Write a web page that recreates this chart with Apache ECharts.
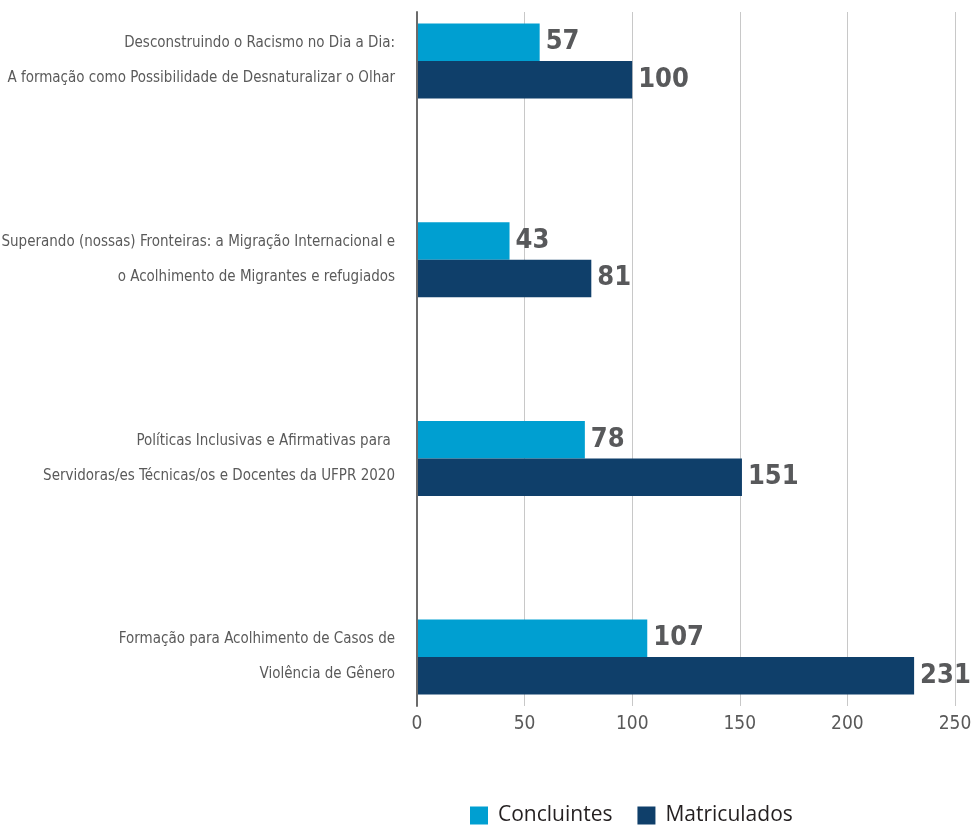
<!DOCTYPE html>
<html>
<head>
<meta charset="utf-8">
<script src="https://cdn.jsdelivr.net/npm/echarts@6/dist/echarts.min.js"></script>
<style>
	html, body {margin: 0; padding: 0; background: #fff;}
	#chart {width: 971px; height: 825px;}
</style>
</head>
<body>
<div id="chart"></div>
<script>
let categories = [
	'Desconstruindo o Racismo no Dia a Dia:\nA formação como Possibilidade de Desnaturalizar o Olhar',
	'Superando (nossas) Fronteiras: a Migração Internacional e\no Acolhimento de Migrantes e refugiados',
	'Políticas Inclusivas e Afirmativas para \nServidoras/es Técnicas/os e Docentes da UFPR 2020',
	'Formação para Acolhimento de Casos de\nViolência de Gênero',
];
let concluintes = [57, 43, 78, 107];
let matriculados = [100, 81, 151, 231];
let xTicks = {min: 0, max: 250, interval: 50};

let narrow = '"DejaVu Sans Condensed", "Liberation Sans Narrow", sans-serif';
let gray = '#58595b';

let chart = echarts.init(document.getElementById('chart'));

let valueLabel = {
	show: true,
	position: 'right',
	distance: 6,
	fontFamily: narrow,
	fontSize: 27,
	fontWeight: 'bold',
	color: gray,
};

chart.setOption({
	animation: false,
	legend: {
		left: 470,
		top: 805,
		padding: 0,
		icon: 'rect',
		itemWidth: 18,
		itemHeight: 18,
		itemGap: 25,
		textStyle: {
			fontFamily: '"Open Sans", sans-serif',
			fontSize: 21,
			color: '#231f20',
			padding: [0, 0, 0, 5],
		},
		data: ['Concluintes', 'Matriculados'],
	},
	grid: [
		// frame: axis line, split lines, tick labels
		{left: 417, right: 16, top: 12, bottom: 119, outerBoundsMode: 'none'},
		// bars
		{left: 417, right: 16, top: -38.3, height: 794.7, outerBoundsMode: 'none'},
	],
	xAxis: [
		{
			gridIndex: 0,
			type: 'value',
			...xTicks,
			axisLine: {show: false},
			axisTick: {show: false},
			splitLine: {lineStyle: {color: '#c8c8c8', width: 1}},
			axisLabel: {
				fontFamily: narrow,
				fontSize: 19,
				color: '#595959',
				margin: 9,
			},
		},
		{
			gridIndex: 1,
			type: 'value',
			...xTicks,
			show: false,
		},
	],
	yAxis: [
		{
			gridIndex: 0,
			type: 'category',
			inverse: true,
			data: categories,
			z: 3,
			axisLine: {lineStyle: {color: '#6b6b6b', width: 2}},
			axisTick: {show: false},
			axisLabel: {show: false},
			splitLine: {show: false},
		},
		{
			gridIndex: 1,
			type: 'category',
			inverse: true,
			data: categories,
			axisLine: {show: false},
			axisTick: {show: false},
			splitLine: {show: false},
			axisLabel: {
				fontFamily: narrow,
				fontSize: 15,
				lineHeight: 35,
				color: '#5a5a5a',
				margin: 22,
				align: 'right',
			},
		},
	],
	series: [
		{
			name: 'Concluintes',
			type: 'bar',
			xAxisIndex: 1,
			yAxisIndex: 1,
			data: concluintes,
			barWidth: 37.5,
			barGap: 0,
			itemStyle: {color: '#009fd1'},
			label: valueLabel,
		},
		{
			name: 'Matriculados',
			type: 'bar',
			xAxisIndex: 1,
			yAxisIndex: 1,
			data: matriculados,
			barWidth: 37.5,
			barGap: 0,
			itemStyle: {color: '#0f3f6a'},
			label: valueLabel,
		},
	],
});
</script>
</body>
</html>
